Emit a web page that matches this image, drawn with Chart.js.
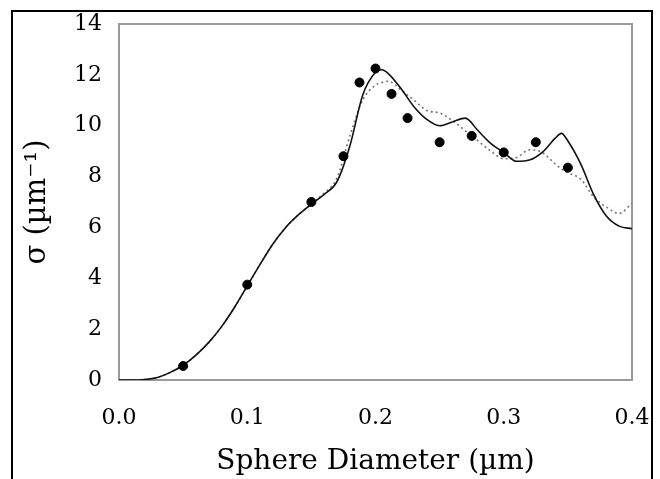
<!DOCTYPE html>
<html>
<head>
<meta charset="utf-8">
<script src="https://cdn.jsdelivr.net/npm/chart.js@4.4.1/dist/chart.umd.min.js"></script>
<style>
    html, body { margin: 0; padding: 0; background: #fff; }
    #wrap { position: relative; width: 660px; height: 479px; overflow: hidden; }
    #marco { position: absolute; left: 11px; top: 10px; width: 638px; height: 520px; border: 2px solid #000; }
    canvas { position: absolute; left: 0; top: 0; }
</style>
</head>
<body>
<div id="wrap">
    <div id="marco"></div>
    <canvas id="grafico" width="660" height="479"></canvas>
</div>
<script>
// --- DATOS ---
const diametros = [0, 0.01, 0.02, 0.03, 0.04, 0.05, 0.06, 0.07, 0.08, 0.09, 0.1, 0.11, 0.12, 0.13, 0.14, 0.15, 0.16, 0.17, 0.18, 0.19, 0.2, 0.205, 0.21, 0.22, 0.23, 0.24, 0.25, 0.26, 0.27, 0.28, 0.29, 0.3, 0.31, 0.32, 0.33, 0.34, 0.345, 0.35, 0.36, 0.37, 0.38, 0.39, 0.4];
const sigmaSolida = [0, 0, 0.02, 0.1, 0.3, 0.58, 0.98, 1.48, 2.1, 2.85, 3.7, 4.55, 5.35, 6.0, 6.5, 6.92, 7.3, 7.8, 9.2, 11.2, 12.1, 12.2, 12.05, 11.45, 10.75, 10.25, 10.0, 10.15, 10.3, 9.8, 9.3, 8.95, 8.6, 8.65, 8.95, 9.5, 9.7, 9.4, 8.5, 7.3, 6.45, 6.05, 5.95];
const sigmaPunteada = [0, 0, 0.02, 0.1, 0.3, 0.58, 0.98, 1.48, 2.1, 2.85, 3.7, 4.55, 5.35, 6.0, 6.5, 6.92, 7.35, 7.95, 9.6, 11.0, 11.6, 11.7, 11.75, 11.4, 11.0, 10.6, 10.5, 10.2, 9.8, 9.4, 9.0, 8.7, 8.75, 9.05, 8.95, 8.5, 8.3, 8.15, 7.9, 7.2, 6.8, 6.55, 6.95];
const diametrosMedidos = [0.05, 0.1, 0.15, 0.175, 0.1875, 0.2, 0.2125, 0.225, 0.25, 0.275, 0.3, 0.325, 0.35];
const sigmaMedida = [0.55, 3.75, 7.0, 8.8, 11.7, 12.25, 11.25, 10.3, 9.35, 9.6, 8.95, 9.35, 8.35];
const ticksX = [0, 0.1, 0.2, 0.3, 0.4];
const ticksY = [0, 2, 4, 6, 8, 10, 12, 14];

const aPuntos = (xs, ys) => xs.map((x, i) => ({ x: x, y: ys[i] }));

// marco gris del área de trazado
const marcoPlugin = {
    id: 'marcoArea',
    beforeDatasetsDraw(chart) {
        const { ctx, chartArea: a } = chart;
        ctx.save();
        ctx.strokeStyle = '#9a9a9a';
        ctx.lineWidth = 2;
        ctx.strokeRect(a.left, a.top, a.right - a.left, a.bottom - a.top);
        ctx.restore();
    }
};

const fuente = 'DejaVu Serif';

new Chart(document.getElementById('grafico'), {
    type: 'scatter',
    data: {
        datasets: [
            {
                label: 'teoría',
                type: 'line',
                data: aPuntos(diametros, sigmaSolida),
                borderColor: '#111',
                borderWidth: 1.6,
                pointRadius: 0,
                cubicInterpolationMode: 'monotone',
                fill: false,
                order: 2
            },
            {
                label: 'teoría 2',
                type: 'line',
                data: aPuntos(diametros, sigmaPunteada),
                borderColor: '#777',
                borderWidth: 1.6,
                borderDash: [2, 3],
                pointRadius: 0,
                cubicInterpolationMode: 'monotone',
                fill: false,
                order: 3
            },
            {
                label: 'medido',
                data: aPuntos(diametrosMedidos, sigmaMedida),
                backgroundColor: '#000',
                borderColor: '#000',
                pointRadius: 4.5,
                order: 1
            }
        ]
    },
    options: {
        responsive: false,
        animation: false,
        layout: { padding: { top: 24, right: 28, bottom: 0, left: 0 } },
        plugins: {
            legend: { display: false },
            tooltip: { enabled: false }
        },
        scales: {
            x: {
                type: 'linear',
                min: 0,
                max: 0.4,
                afterBuildTicks: s => { s.ticks = ticksX.map(v => ({ value: v })); },
                afterFit: s => { s.height = 99; s.paddingLeft = 0; s.paddingRight = 0; },
                grid: { display: false, drawTicks: false },
                border: { display: false },
                ticks: {
                    padding: 25,
                    color: '#000',
                    font: { family: fuente, size: 22 },
                    callback: v => v.toFixed(1)
                },
                title: {
                    display: true,
                    text: 'Sphere Diameter (µm)',
                    color: '#000',
                    font: { family: fuente, size: 28 },
                    padding: { top: 0, bottom: 0 }
                }
            },
            y: {
                min: 0,
                max: 14,
                afterBuildTicks: s => { s.ticks = ticksY.map(v => ({ value: v })); },
                afterFit: s => { s.width = 119; s.paddingTop = 0; s.paddingBottom = 0; },
                grid: { display: false, drawTicks: false },
                border: { display: false },
                ticks: {
                    padding: 17,
                    color: '#000',
                    font: { family: fuente, size: 22 }
                },
                title: {
                    display: true,
                    text: 'σ (µm⁻¹)',
                    color: '#000',
                    font: { family: fuente, size: 29 },
                    padding: { top: 20, bottom: 0 }
                }
            }
        }
    },
    plugins: [marcoPlugin]
});
</script>
</body>
</html>
